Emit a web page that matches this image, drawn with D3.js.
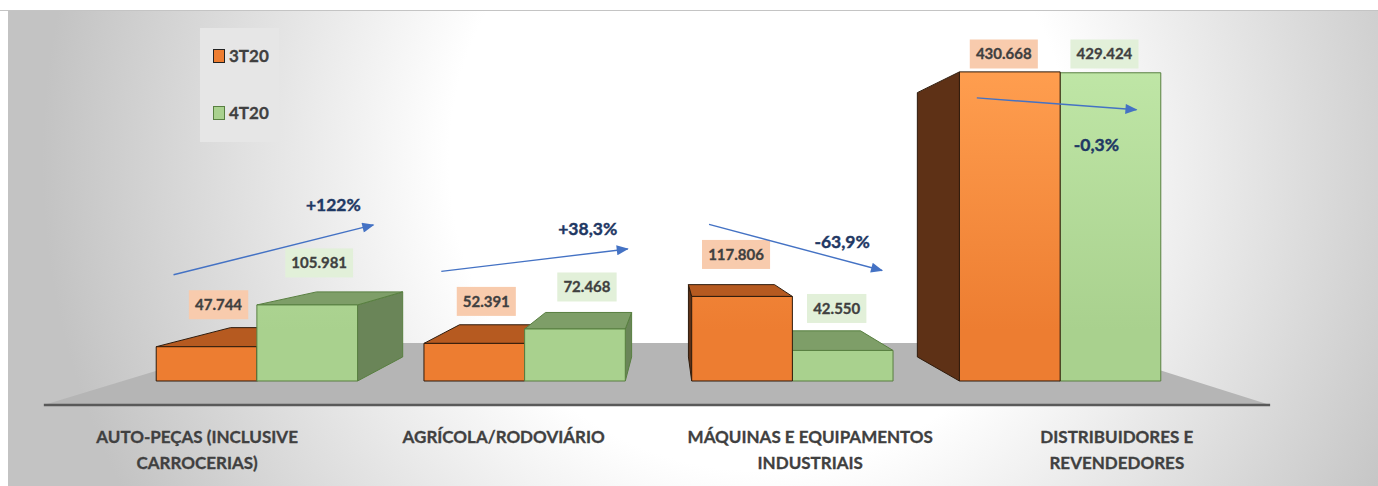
<!DOCTYPE html>
<html>
<head>
<meta charset="utf-8">
<script src="https://cdn.jsdelivr.net/npm/d3@7"></script>
<style>
  html, body { margin: 0; padding: 0; background: #fff; }
  svg { display: block; font-family: Lato, "Open Sans", sans-serif; }
</style>
</head>
<body>
<svg id="chart" width="1378" height="486"></svg>
<script>
// chart data
const categories = ["AUTO-PEÇAS (INCLUSIVE CARROCERIAS)", "AGRÍCOLA/RODOVIÁRIO", "MÁQUINAS E EQUIPAMENTOS INDUSTRIAIS", "DISTRIBUIDORES E REVENDEDORES"];
const seriesNames = ["3T20", "4T20"];
const values3T20 = [47744, 52391, 117806, 430668];
const values4T20 = [105981, 72468, 42550, 429424];
const changeLabels = ["+122%", "+38,3%", "-63,9%", "-0,3%"];

const W = 1378, H = 486;
const base = 381;               // front base line of the bars
const vp = {x: 669, y: 215};    // vanishing point of the 3d view
const backS = 0.855;            // depth of a bar
const floorFront = 1.145, floorBack = 0.771;

const locale = d3.formatLocale({decimal: ",", thousands: ".", grouping: [3], currency: ["", ""]});
const fmt = locale.format(",d");

const colors = {
  "3T20": {light: "#ff9e4f", front: "#ed7d31", top: "#b65a20", side: "#5e3116", stroke: "#2e1b0c", label: "#f8cbad"},
  "4T20": {light: "#bfe6a6", front: "#a9d18e", top: "#7e9e68", side: "#6a8558", stroke: "#587f40", label: "#e2f0d9"}
};

const svg = d3.select("#chart");
const defs = svg.append("defs");

// background
const bg = defs.append("radialGradient").attr("id", "bg")
  .attr("gradientUnits", "userSpaceOnUse")
  .attr("cx", 760).attr("cy", 160).attr("r", 740);
bg.append("stop").attr("offset", 0).attr("stop-color", "#ffffff");
bg.append("stop").attr("offset", 0.42).attr("stop-color", "#ffffff");
bg.append("stop").attr("offset", 0.97).attr("stop-color", "#c3c3c3");

seriesNames.forEach(s => {
  const g = defs.append("linearGradient").attr("id", "grad" + s)
    .attr("gradientUnits", "userSpaceOnUse")
    .attr("x1", 0).attr("y1", 70).attr("x2", 0).attr("y2", 330);
  g.append("stop").attr("offset", 0).attr("stop-color", colors[s].light);
  g.append("stop").attr("offset", 1).attr("stop-color", colors[s].front);
});

defs.append("marker").attr("id", "arrow")
  .attr("markerUnits", "userSpaceOnUse")
  .attr("viewBox", "0 0 12 10").attr("refX", 11).attr("refY", 5)
  .attr("markerWidth", 13).attr("markerHeight", 10).attr("orient", "auto")
  .append("path").attr("d", "M0,0L12,5L0,10Z").attr("fill", "#4472c4");

svg.append("rect").attr("x", 8).attr("y", 10).attr("width", W - 8).attr("height", H - 10)
  .attr("fill", "url(#bg)");
svg.append("line").attr("x1", 0).attr("x2", W).attr("y1", 10.5).attr("y2", 10.5)
  .attr("stroke", "#c4c4c4");

// scales
const x0 = d3.scaleBand().domain(categories).range([123, 1194]);
const x1 = d3.scaleBand().domain(seriesNames).range([0, x0.bandwidth()]).paddingOuter(0.33);
const y = d3.scaleLinear().domain([0, 450000]).range([base, 58]);

const proj = (px, py, s) => [vp.x + (px - vp.x) * s, vp.y + (py - vp.y) * s];
const poly = pts => "M" + pts.map(p => p.join(",")).join("L") + "Z";

// floor
const fl = x0.range();
const floorPts = [proj(fl[0], base, floorFront), proj(fl[1], base, floorFront),
                  proj(fl[1], base, floorBack), proj(fl[0], base, floorBack)];
svg.append("path").attr("d", poly(floorPts)).attr("fill", "#b5b5b5");
svg.append("line")
  .attr("x1", floorPts[0][0]).attr("y1", floorPts[0][1])
  .attr("x2", floorPts[1][0]).attr("y2", floorPts[1][1])
  .attr("stroke", "#595959").attr("stroke-width", 2.5);

// bars
const bars = [];
categories.forEach((c, i) => {
  [values3T20[i], values4T20[i]].forEach((v, j) => {
    const s = seriesNames[j];
    const xa = x0(c) + x1(s), xb = xa + x1.bandwidth();
    bars.push({c, i, s, v, xa, xb, yt: y(v), yb: y(0)});
  });
});
bars.sort((a, b) => Math.abs((b.xa + b.xb) / 2 - vp.x) - Math.abs((a.xa + a.xb) / 2 - vp.x));

const gBars = svg.append("g");
bars.forEach(b => {
  const col = colors[b.s];
  const g = gBars.append("g").attr("stroke", col.stroke).attr("stroke-width", 1).attr("stroke-linejoin", "round");
  let sx = null;
  if (b.xb < vp.x) sx = b.xb;
  else if (b.xa > vp.x) sx = b.xa;
  if (sx !== null) {
    g.append("path").attr("fill", col.side)
      .attr("d", poly([proj(sx, b.yt, 1), proj(sx, b.yt, backS), proj(sx, b.yb, backS), proj(sx, b.yb, 1)]));
  }
  if (b.yt > vp.y) {
    g.append("path").attr("fill", col.top)
      .attr("d", poly([proj(b.xa, b.yt, 1), proj(b.xb, b.yt, 1), proj(b.xb, b.yt, backS), proj(b.xa, b.yt, backS)]));
  }
  g.append("rect").attr("x", b.xa).attr("y", b.yt).attr("width", b.xb - b.xa).attr("height", b.yb - b.yt)
    .attr("fill", "url(#grad" + b.s + ")");
});

// value labels
const gLab = svg.append("g");
bars.forEach(b => {
  const col = colors[b.s];
  const cx = (b.xa + b.xb) / 2 + (b.xb < vp.x ? 12 : -6);
  const cy = Math.max(54, b.yt - 42);
  const g = gLab.append("g");
  const t = g.append("text").attr("x", cx).attr("y", cy).attr("dy", "0.36em")
    .attr("text-anchor", "middle").attr("font-size", 15).attr("font-weight", 700)
    .attr("fill", "#404040").attr("stroke", "#404040").attr("stroke-width", 0.3)
    .text(fmt(b.v));
  const bb = t.node().getBBox();
  g.insert("rect", "text").attr("x", cx - bb.width / 2 - 6).attr("y", cy - 14.5)
    .attr("width", bb.width + 12).attr("height", 29).attr("fill", col.label);
});

// change arrows
const gArr = svg.append("g");
const lastC = x0(categories[categories.length - 1]) + x1(seriesNames[1]) + x1.bandwidth() / 2;
categories.forEach((c, i) => {
  const cA = x0(c) + x1(seriesNames[0]) + x1.bandwidth() / 2;
  const cB = x0(c) + x1(seriesNames[1]) + x1.bandwidth() / 2;
  const tall = y(values3T20[i]) - 72 < 60;
  const ya = tall ? y(values3T20[i]) + 26 : y(values3T20[i]) - 72;
  const yb = tall ? y(values4T20[i]) + 37 : y(values4T20[i]) - 80;
  const xa = cA - 33, xb = cB + 26 + (lastC - cB) * 0.05;
  gArr.append("line").attr("x1", xa).attr("y1", ya).attr("x2", xb).attr("y2", yb)
    .attr("stroke", "#4472c4").attr("stroke-width", 1.4).attr("marker-end", "url(#arrow)");
  const ty = tall ? yb + 35 : yb - 20 - Math.max(0, yb - ya) * 0.2;
  gArr.append("text").attr("x", xb - 40).attr("y", ty).attr("dy", "0.36em")
    .attr("text-anchor", "middle").attr("font-size", 17.5).attr("font-weight", 700)
    .attr("fill", "#1f3864").attr("stroke", "#1f3864").attr("stroke-width", 0.4)
    .text(changeLabels[i]);
});

// category labels
const gCat = svg.append("g");
categories.forEach(c => {
  const cx = proj(x0(c) + x0.bandwidth() / 2, base, floorFront)[0];
  const t = gCat.append("text").attr("x", cx).attr("y", 443)
    .attr("text-anchor", "middle").attr("font-size", 17).attr("font-weight", 700)
    .attr("fill", "#404040").attr("stroke", "#404040").attr("stroke-width", 0.3);
  const words = c.split(" ");
  let line = [];
  let ts = t.append("tspan").attr("x", cx).attr("dy", 0);
  words.forEach(w => {
    line.push(w);
    ts.text(line.join(" "));
    if (ts.node().getComputedTextLength() > 265 && line.length > 1) {
      line.pop();
      ts.text(line.join(" "));
      line = [w];
      ts = t.append("tspan").attr("x", cx).attr("dy", 26).text(w);
    }
  });
});

// legend
const lg = svg.append("g");
lg.append("rect").attr("x", 200).attr("y", 28).attr("width", 79).attr("height", 114).attr("fill", "#e6e6e6");
seriesNames.forEach((s, i) => {
  const yy = 56 + i * 57;
  lg.append("rect").attr("x", 213.5).attr("y", yy - 6.5).attr("width", 11).attr("height", 13)
    .attr("fill", colors[s].front).attr("stroke", i ? "#587f40" : "#222");
  lg.append("text").attr("x", 229).attr("y", yy).attr("dy", "0.36em")
    .attr("font-size", 17).attr("font-weight", 700).attr("fill", "#404040")
    .attr("stroke", "#404040").attr("stroke-width", 0.3).text(s);
});
</script>
</body>
</html>
